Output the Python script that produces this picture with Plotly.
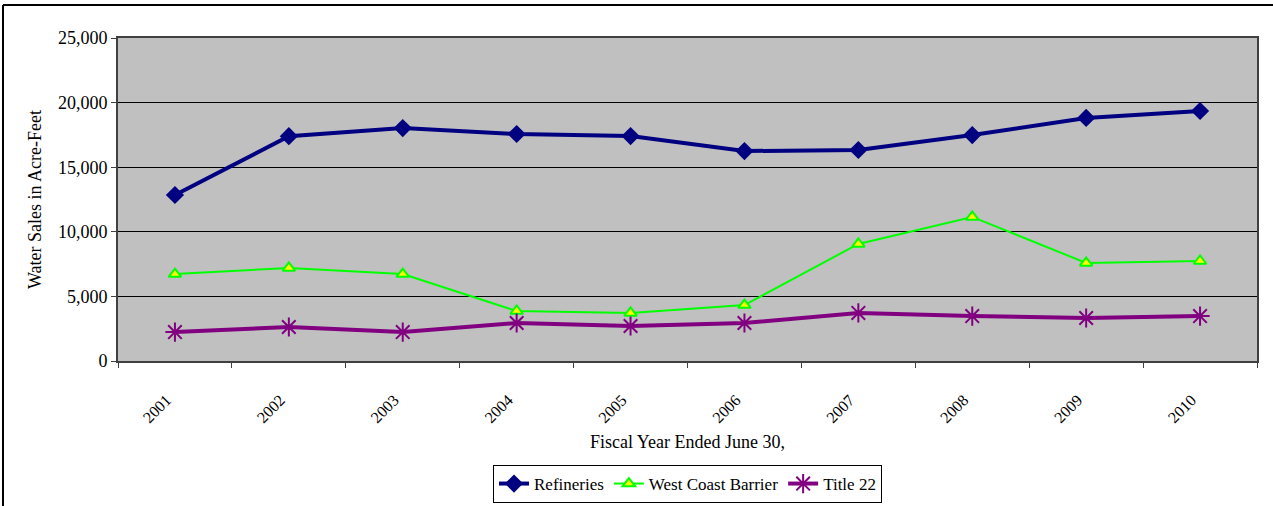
import plotly.graph_objects as go

years = ["2001", "2002", "2003", "2004", "2005", "2006", "2007", "2008", "2009", "2010"]
year_labels = [y + "\u00a0\u00a0\u00a0" for y in years]
refineries = [12850, 17400, 18030, 17570, 17410, 16250, 16330, 17490, 18810, 19350]
west_coast_barrier = [6730, 7200, 6730, 3870, 3720, 4330, 9060, 11150, 7590, 7740]
title_22 = [2240, 2630, 2240, 2940, 2710, 2940, 3720, 3480, 3330, 3480]

W, H = 1273, 506
L, R, T, B = 118, 16, 38, 145
PW, PH = W - L - R, H - T - B

def px(x):
    return (x - L) / PW

def py(y):
    return (H - B - y) / PH

font = "Liberation Serif"
FS = 18

fig = go.Figure()
fig.add_trace(go.Scatter(
    x=years, y=refineries, name="Refineries", mode="lines+markers",
    line=dict(color="#000080", width=4),
    marker=dict(symbol="diamond", size=14, color="#000080"),
))
fig.add_trace(go.Scatter(
    x=years, y=west_coast_barrier, name="West Coast Barrier", mode="lines+markers",
    line=dict(color="#00FF00", width=2),
    marker=dict(symbol="triangle-up", size=11, color="#FFFF00",
                line=dict(color="#00FF00", width=2)),
))
fig.add_trace(go.Scatter(
    x=years, y=title_22, name="Title 22", mode="lines+markers",
    line=dict(color="#800080", width=4),
    marker=dict(symbol="asterisk-open", size=16, color="#800080",
                line=dict(color="#800080", width=2)),
))

fig.update_layout(
    width=W, height=H,
    margin=dict(l=L, r=R, t=T, b=B, autoexpand=False),
    paper_bgcolor="white",
    plot_bgcolor="#C0C0C0",
    font=dict(family=font, size=FS, color="black"),
    showlegend=True,
    legend=dict(
        orientation="h", x=0.5, xanchor="center", y=py(465), yanchor="top",
        bordercolor="black", borderwidth=1, bgcolor="white",
        font=dict(family=font, size=17, color="black"),
        tracegroupgap=0,
    ),
    xaxis=dict(
        type="category", tickson="boundaries", ticks="outside", ticklen=5,
        tickcolor="#404040", tickangle=-45, showgrid=False, automargin=False,
        showline=True, linecolor="#404040", linewidth=2, mirror=True,
        tickmode="array", tickvals=years, ticktext=year_labels,
        tickfont=dict(family=font, size=16, color="black"), ticklabelstandoff=13,
        title=dict(text="Fiscal Year Ended June 30,", font=dict(family=font, size=FS), standoff=10),
        range=[-0.5, 9.5],
    ),
    yaxis=dict(
        range=[0, 25000], tickvals=[0, 5000, 10000, 15000, 20000, 25000],
        tickformat=",", ticks="outside", ticklen=5, tickcolor="#404040", automargin=False,
        showgrid=True, gridcolor="black", gridwidth=1,
        showline=True, linecolor="#404040", linewidth=2, mirror=True,
        tickfont=dict(family=font, size=FS, color="black"), zeroline=False,
        title=dict(text="Water Sales in Acre-Feet", font=dict(family=font, size=FS), standoff=12),
    ),
    shapes=[
        dict(type="line", xref="paper", yref="paper", x0=px(3), x1=px(1273), y0=py(5), y1=py(5),
             line=dict(color="black", width=2)),
        dict(type="line", xref="paper", yref="paper", x0=px(3), x1=px(3), y0=py(5), y1=py(506),
             line=dict(color="black", width=2)),
    ],
)

fig.write_html("out.html", config={"displayModeBar": False},
               post_script="document.body.style.margin='0';")
